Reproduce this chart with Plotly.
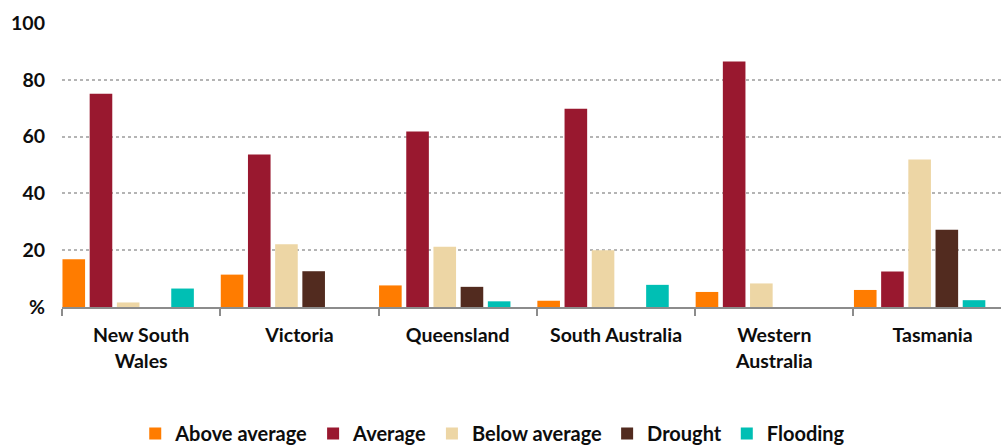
import plotly.graph_objects as go

# Seasonal conditions by state, share of respondents (%)
states = ["New South<br>Wales", "Victoria", "Queensland", "South Australia",
          "Western<br>Australia", "Tasmania"]
above_average = [16.8, 11.4, 7.6, 2.2, 5.3, 6.0]
average = [75.1, 53.7, 61.8, 69.8, 86.4, 12.5]
below_average = [1.6, 22.1, 21.2, 20.0, 8.3, 51.9]
drought = [None, 12.6, 7.1, None, None, 27.2]
flooding = [6.5, None, 2.0, 7.8, None, 2.4]

y_ticks = [0, 20, 40, 60, 80, 100]
y_tick_text = ["%", "20", "40", "60", "80", "100"]

series = [
    ("Above average", above_average, "#FF7C00"),
    ("Average", average, "#99182F"),
    ("Below average", below_average, "#EDD6A5"),
    ("Drought", drought, "#522B1F"),
    ("Flooding", flooding, "#00BFB4"),
]

# bars sit from the left boundary of each category
BAR_W = 0.1428
PITCH = 0.1718
LEAD = 0.003

fig = go.Figure()
for i, (name, vals, color) in enumerate(series):
    fig.add_trace(go.Bar(
        name=name, x=states, y=vals,
        marker=dict(color=color, line=dict(width=0)),
        width=BAR_W, offset=-0.5 + LEAD + i * PITCH,
    ))

font_family = "Lato, 'Open Sans', sans-serif"
fig.update_layout(
    barmode="overlay",
    width=1001, height=447,
    margin=dict(l=62, r=0, t=23, b=139.5, autoexpand=False),
    plot_bgcolor="white", paper_bgcolor="white",
    font=dict(family=font_family, size=18, color="#0d0d0d"),
    showlegend=True,
    legend=dict(
        orientation="h", x=0.078, xanchor="left", y=-0.445, yanchor="middle",
        font=dict(family=font_family, size=20, color="#0d0d0d", weight="bold"),
        itemclick=False, tracegroupgap=0,
    ),
)
fig.update_xaxes(
    type="category", range=[-0.5, 5.432],
    showline=True, linecolor="#8c8c8c", linewidth=2,
    ticks="outside", tickson="boundaries", ticklen=7, tickwidth=2, tickcolor="#8c8c8c",
    ticklabelstandoff=10,
    tickfont=dict(family=font_family, size=19.5, color="#0d0d0d", weight="bold"),
    showgrid=False, fixedrange=True,
)
fig.update_yaxes(
    range=[0, 100], tickvals=y_ticks, ticktext=y_tick_text,
    showgrid=True, gridcolor="#b4b4b4", gridwidth=1.5, griddash="dot",
    zeroline=False, showline=False, ticks="",
    ticklabelstandoff=16,
    tickfont=dict(family=font_family, size=19.5, color="#0d0d0d", weight="bold"),
    fixedrange=True,
)

fig.write_html("out.html")
